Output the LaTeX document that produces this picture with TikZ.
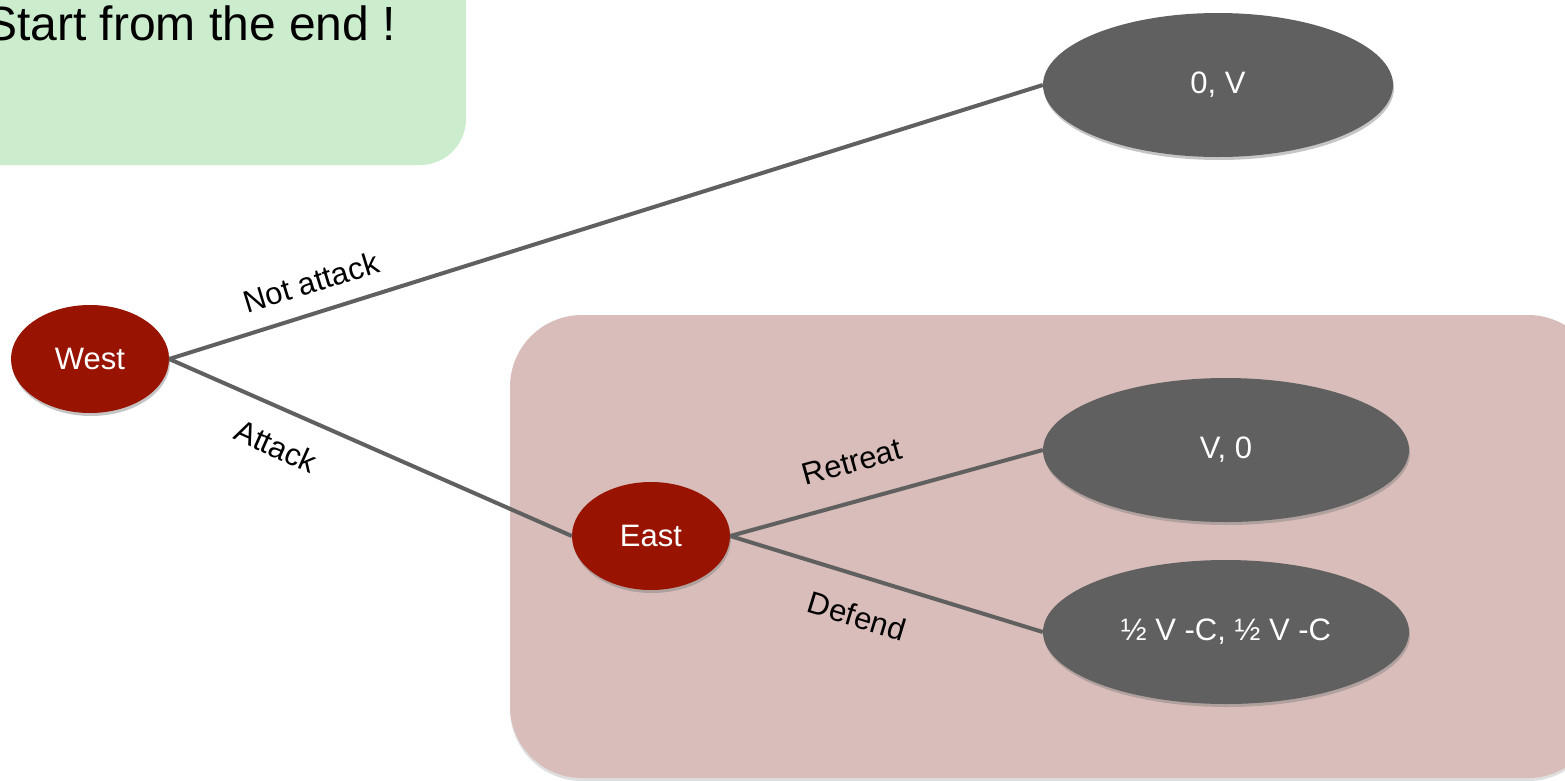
\documentclass[tikz,border=0pt]{standalone}
\usepackage{fontspec}
\setmainfont{Liberation Sans}
\usetikzlibrary{shapes.geometric,shadows}
\definecolor{playerred}{RGB}{152,20,0}
\definecolor{payoffgray}{RGB}{96,96,96}
\definecolor{edgegray}{RGB}{96,96,96}
\definecolor{notegreen}{RGB}{204,236,206}
\definecolor{subgamepink}{RGB}{217,189,186}
\tikzset{
  player/.style={ellipse, fill=playerred, text=white, inner sep=0pt,
    minimum width=158pt, minimum height=108pt, font=\fontsize{31}{36}\selectfont,
    drop shadow={opacity=0.45, shadow xshift=1pt, shadow yshift=-3pt}},
  payoff/.style={ellipse, fill=payoffgray, text=white, inner sep=0pt,
    minimum height=144pt, font=\fontsize{31}{36}\selectfont,
    drop shadow={opacity=0.45, shadow xshift=1pt, shadow yshift=-3pt}},
  branch/.style={draw=edgegray, line width=4pt},
  movelabel/.style={font=\fontsize{31}{35}\selectfont, inner sep=0pt}
}
\begin{document}
\begin{tikzpicture}[x=1pt, y=-1pt]
  \useasboundingbox (0,0) rectangle (1565,780);
  \clip (0,0) rectangle (1565,780);
  \fill[white] (0,0) rectangle (1565,780);
  % note box with the hint
  \fill[notegreen, rounded corners=46pt] (-60,-60) rectangle (466,165);
  \node[anchor=base west, inner sep=0pt, font=\fontsize{48}{54}\selectfont] (hint) at (-15,40) {Start from the end !};
  % highlighted subgame
  \fill[subgamepink, rounded corners=72pt,
    drop shadow={opacity=0.25, shadow xshift=0pt, shadow yshift=-3pt}] (510,315) rectangle (1600,778);
  % players
  \node[player] (west) at (90,359) {West};
  \node[player] (east) at (651,536) {East};
  % payoffs
  \node[payoff, minimum width=350pt] (p1) at (1218,85) {0, V};
  \node[payoff, minimum width=366pt] (p2) at (1226,450) {V, 0};
  \node[payoff, minimum width=366pt] (p3) at (1226,632) {½ V -C, ½ V -C};
  % branches
  \draw[branch] (west.east) -- (p1.west);
  \draw[branch] (west.east) -- (east.west);
  \draw[branch] (east.east) -- (p2.west);
  \draw[branch] (east.east) -- (p3.west);
  % move labels
  \node[movelabel, rotate=17] (lna) at (311,282) {Not attack};
  \node[movelabel, rotate=-24] (lat) at (276,446) {Attack};
  \node[movelabel, rotate=15.5] (lre) at (852,462) {Retreat};
  \node[movelabel, rotate=-17] (lde) at (857,616) {Defend};
\end{tikzpicture}
\end{document}
